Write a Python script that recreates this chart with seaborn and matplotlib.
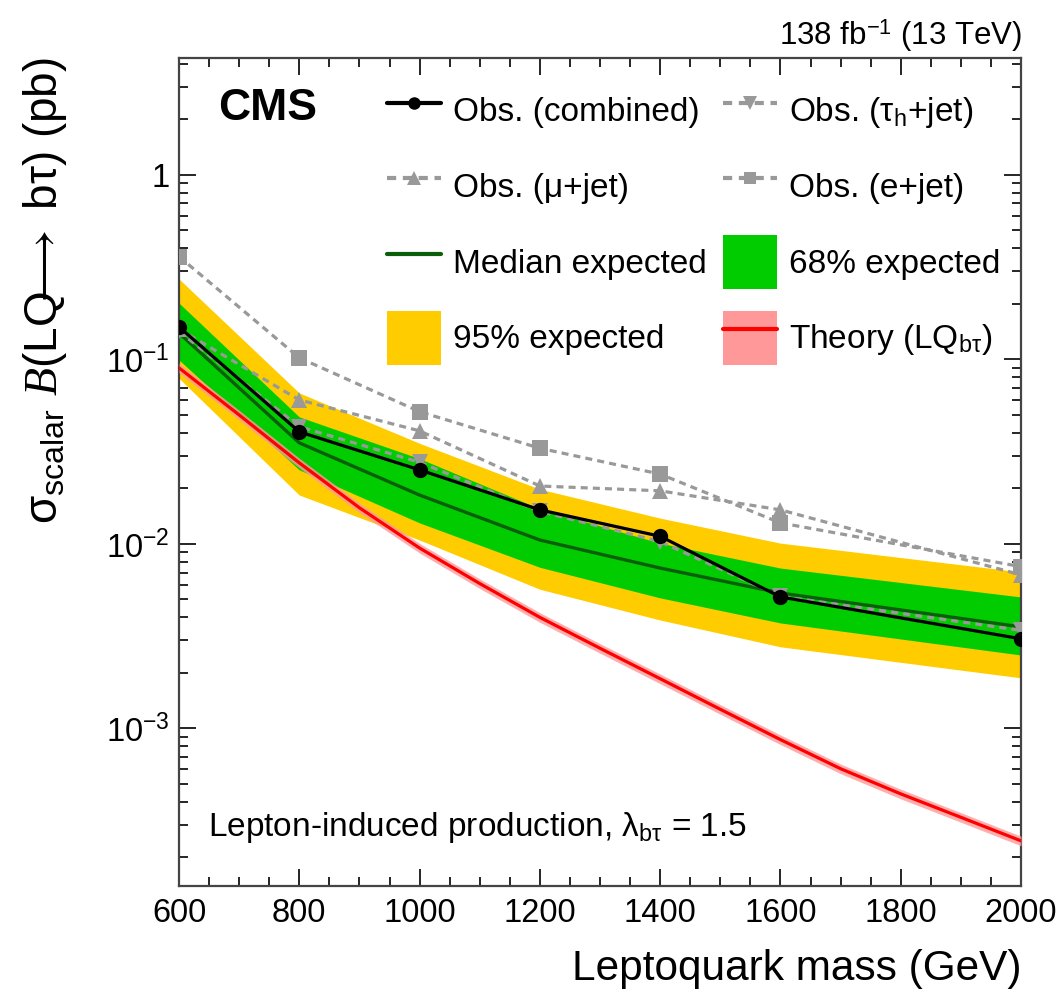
import numpy as np
import pandas as pd
import matplotlib
matplotlib.use("Agg")
import matplotlib.pyplot as plt
import seaborn as sns
from matplotlib.lines import Line2D
from matplotlib.patches import Patch
from matplotlib.ticker import FixedLocator, FuncFormatter, NullFormatter, MultipleLocator, LogLocator

# ---------------- data ----------------
mass = [600, 800, 1000, 1200, 1400, 1600, 2000]
obs_combined = [0.150, 0.0405, 0.0252, 0.0153, 0.0110, 0.00516, 0.00306]
obs_tauh = [0.142, 0.0432, 0.0277, 0.0150, 0.0103, 0.0052, 0.00340]
obs_mu = [0.146, 0.0603, 0.0410, 0.0206, 0.0194, 0.0153, 0.0068]
obs_e = [0.361, 0.102, 0.0521, 0.0330, 0.0239, 0.0130, 0.00753]
exp_median = [0.139, 0.0353, 0.0184, 0.0105, 0.0074, 0.00542, 0.00355]
exp68_lo = [0.0993, 0.0252, 0.0130, 0.00747, 0.0051, 0.00373, 0.0025]
exp68_hi = [0.202, 0.0488, 0.029, 0.0155, 0.0101, 0.0074, 0.00516]
exp95_lo = [0.079, 0.0184, 0.0105, 0.00568, 0.00387, 0.00277, 0.00188]
exp95_hi = [0.273, 0.0658, 0.0351, 0.0198, 0.0138, 0.0101, 0.00705]

theory_mass = [600, 700, 800, 900, 1000, 1100, 1200, 1300, 1400, 1500, 1600, 1700, 1800, 1900, 2000]
theory_xsec = [0.090, 0.050, 0.0275, 0.0157, 0.0095, 0.0061, 0.0040, 0.00272, 0.00186,
               0.00127, 0.00087, 0.000605, 0.000442, 0.00033, 0.000246]
theory_unc = [0.06, 0.06, 0.06, 0.06, 0.06, 0.06, 0.06, 0.06, 0.06, 0.06, 0.06, 0.06, 0.06, 0.06, 0.06]

x_ticks = [600, 800, 1000, 1200, 1400, 1600, 1800, 2000]
y_ticks = [1e-3, 1e-2, 1e-1, 1]

# ---------------- style ----------------
sns.set_theme(style="ticks")
plt.rcParams["font.family"] = ["Liberation Sans", "DejaVu Sans"]
plt.rcParams["mathtext.fontset"] = "custom"
plt.rcParams["mathtext.rm"] = "Liberation Sans"
plt.rcParams["mathtext.it"] = "Liberation Serif:italic"
plt.rcParams["mathtext.bf"] = "Liberation Sans:bold"
for k in ["text.color", "axes.labelcolor", "xtick.color", "ytick.color"]:
    plt.rcParams[k] = "black"

W, H = 1064, 994
fig = plt.figure(figsize=(W / 100, H / 100), dpi=100)
ax = fig.add_axes([179 / W, 1 - 886 / H, (1021 - 179) / W, (886 - 58) / H])

YELLOW = "#FFCC00"
GREEN = "#00CC00"
DKGREEN = "#0B5F0B"
GRAY = "#999999"

df = pd.DataFrame({
    "mass": mass, "combined": obs_combined, "tauh": obs_tauh, "mu": obs_mu, "e": obs_e,
    "median": exp_median, "lo68": exp68_lo, "hi68": exp68_hi, "lo95": exp95_lo, "hi95": exp95_hi,
})
th = pd.DataFrame({"mass": theory_mass, "xsec": theory_xsec, "unc": theory_unc})
th["lo"] = th["xsec"] * (1 - th["unc"])
th["hi"] = th["xsec"] * (1 + th["unc"])

ax.fill_between(df["mass"], df["lo95"], df["hi95"], color=YELLOW, lw=0, zorder=1)
ax.fill_between(df["mass"], df["lo68"], df["hi68"], color=GREEN, lw=0, zorder=2)
sns.lineplot(data=df, x="mass", y="median", ax=ax, color=DKGREEN, lw=2.4, zorder=3)

ax.fill_between(th["mass"], th["lo"], th["hi"], color="#FF9999", alpha=0.8, lw=0, zorder=4)
sns.lineplot(data=th, x="mass", y="xsec", ax=ax, color="#FF0000", lw=2.3, zorder=5)

dash = (0, (2.2, 1.6))
sns.lineplot(data=df, x="mass", y="e", ax=ax, color=GRAY, lw=2.3, linestyle=dash,
             marker="s", markersize=11, markeredgewidth=0, zorder=6)
sns.lineplot(data=df, x="mass", y="mu", ax=ax, color=GRAY, lw=2.3, linestyle=dash,
             marker="^", markersize=12, markeredgewidth=0, zorder=6)
sns.lineplot(data=df, x="mass", y="tauh", ax=ax, color=GRAY, lw=2.3, linestyle=dash,
             marker="v", markersize=12, markeredgewidth=0, zorder=6)
sns.lineplot(data=df, x="mass", y="combined", ax=ax, color="black", lw=2.3,
             marker="o", markersize=11, markeredgewidth=0, zorder=7)

ax.set_yscale("log")
ax.set_xlim(600, 2000)
ax.set_ylim(1.4e-4, 4.3)
ax.set_xlabel("")
ax.set_ylabel("")

ax.xaxis.set_major_locator(FixedLocator(x_ticks))
ax.xaxis.set_minor_locator(MultipleLocator(50))
ax.yaxis.set_major_locator(FixedLocator(y_ticks))
ax.yaxis.set_minor_locator(LogLocator(base=10, subs=np.arange(2, 10), numticks=20))
ax.yaxis.set_minor_formatter(NullFormatter())


def yfmt(v, pos):
    if abs(v - 1) < 1e-9:
        return "1"
    e = int(round(np.log10(v)))
    return r"$\mathrm{10^{%d}}$" % e


ax.yaxis.set_major_formatter(FuncFormatter(yfmt))
ax.tick_params(which="both", direction="in", top=True, right=True, color="black")
ax.tick_params(which="major", length=12.5, width=1.2, labelsize=23.5)
ax.tick_params(which="minor", length=6.5, width=1.2)
ax.tick_params(axis="x", which="major", pad=9)
ax.tick_params(axis="y", which="major", pad=7)
for s in ax.spines.values():
    s.set_color("#444444")
    s.set_linewidth(1.6)
ax.grid(False)

# axis titles
fig.text(1022 / W, 1 - 980 / H, "Leptoquark mass (GeV)", ha="right", va="baseline", fontsize=30.5)
fig.text(45 / W, 1 - 57 / H,
         r"$\mathrm{\sigma_{scalar}}$ $\mathit{B}$(LQ$\!\!\!\longrightarrow$ b$\mathrm{\tau}$) (pb)",
         rotation=90, ha="center", va="top", fontsize=33)

# header texts
fig.text(1022 / W, 1 - 45 / H, r"138 fb$^{\mathrm{-1}}$ (13 TeV)", ha="right", va="baseline", fontsize=22.5)
fig.text(218 / W, 1 - 120 / H, "CMS", ha="left", va="baseline", fontsize=32, fontweight="bold")
fig.text(208 / W, 1 - 836 / H, r"Lepton-induced production, $\mathrm{\lambda_{b\tau}}$ = 1.5",
         ha="left", va="baseline", fontsize=24)

# legend
h_comb = Line2D([], [], color="black", lw=3, marker="o", markersize=9, markeredgewidth=0)
h_tau = Line2D([], [], color=GRAY, lw=3, linestyle=dash, marker="v", markersize=10, markeredgewidth=0)
h_mu = Line2D([], [], color=GRAY, lw=3, linestyle=dash, marker="^", markersize=10, markeredgewidth=0)
h_e = Line2D([], [], color=GRAY, lw=3, linestyle=dash, marker="s", markersize=9, markeredgewidth=0)
h_med = Line2D([], [], color=DKGREEN, lw=3)
h_68 = Patch(facecolor=GREEN, edgecolor="none")
h_95 = Patch(facecolor=YELLOW, edgecolor="none")
h_th = (Patch(facecolor="#FF9999", edgecolor="none"), Line2D([], [], color="#FF0000", lw=3))

handles = [h_comb, h_mu, h_med, h_95, h_tau, h_e, h_68, h_th]
labels = ["Obs. (combined)", "Obs. (\u03bc+jet)", "Median expected", "95% expected",
          r"Obs. ($\mathrm{\tau_h}$+jet)", "Obs. (e+jet)", "68% expected",
          r"Theory (LQ$_{\mathrm{b\tau}}$)"]
fs = 24
em = fs * 100 / 72
leg = ax.legend(handles, labels, ncol=2, loc="upper left",
                bbox_to_anchor=(387 / W, 1 - 84 / H), bbox_transform=fig.transFigure,
                frameon=False, fontsize=fs, borderpad=0, borderaxespad=0,
                handlelength=54 / em, handleheight=2.116, labelspacing=21.5 / em,
                handletextpad=12 / em, columnspacing=16 / em, numpoints=1)

fig.savefig("out.png", dpi=100)
